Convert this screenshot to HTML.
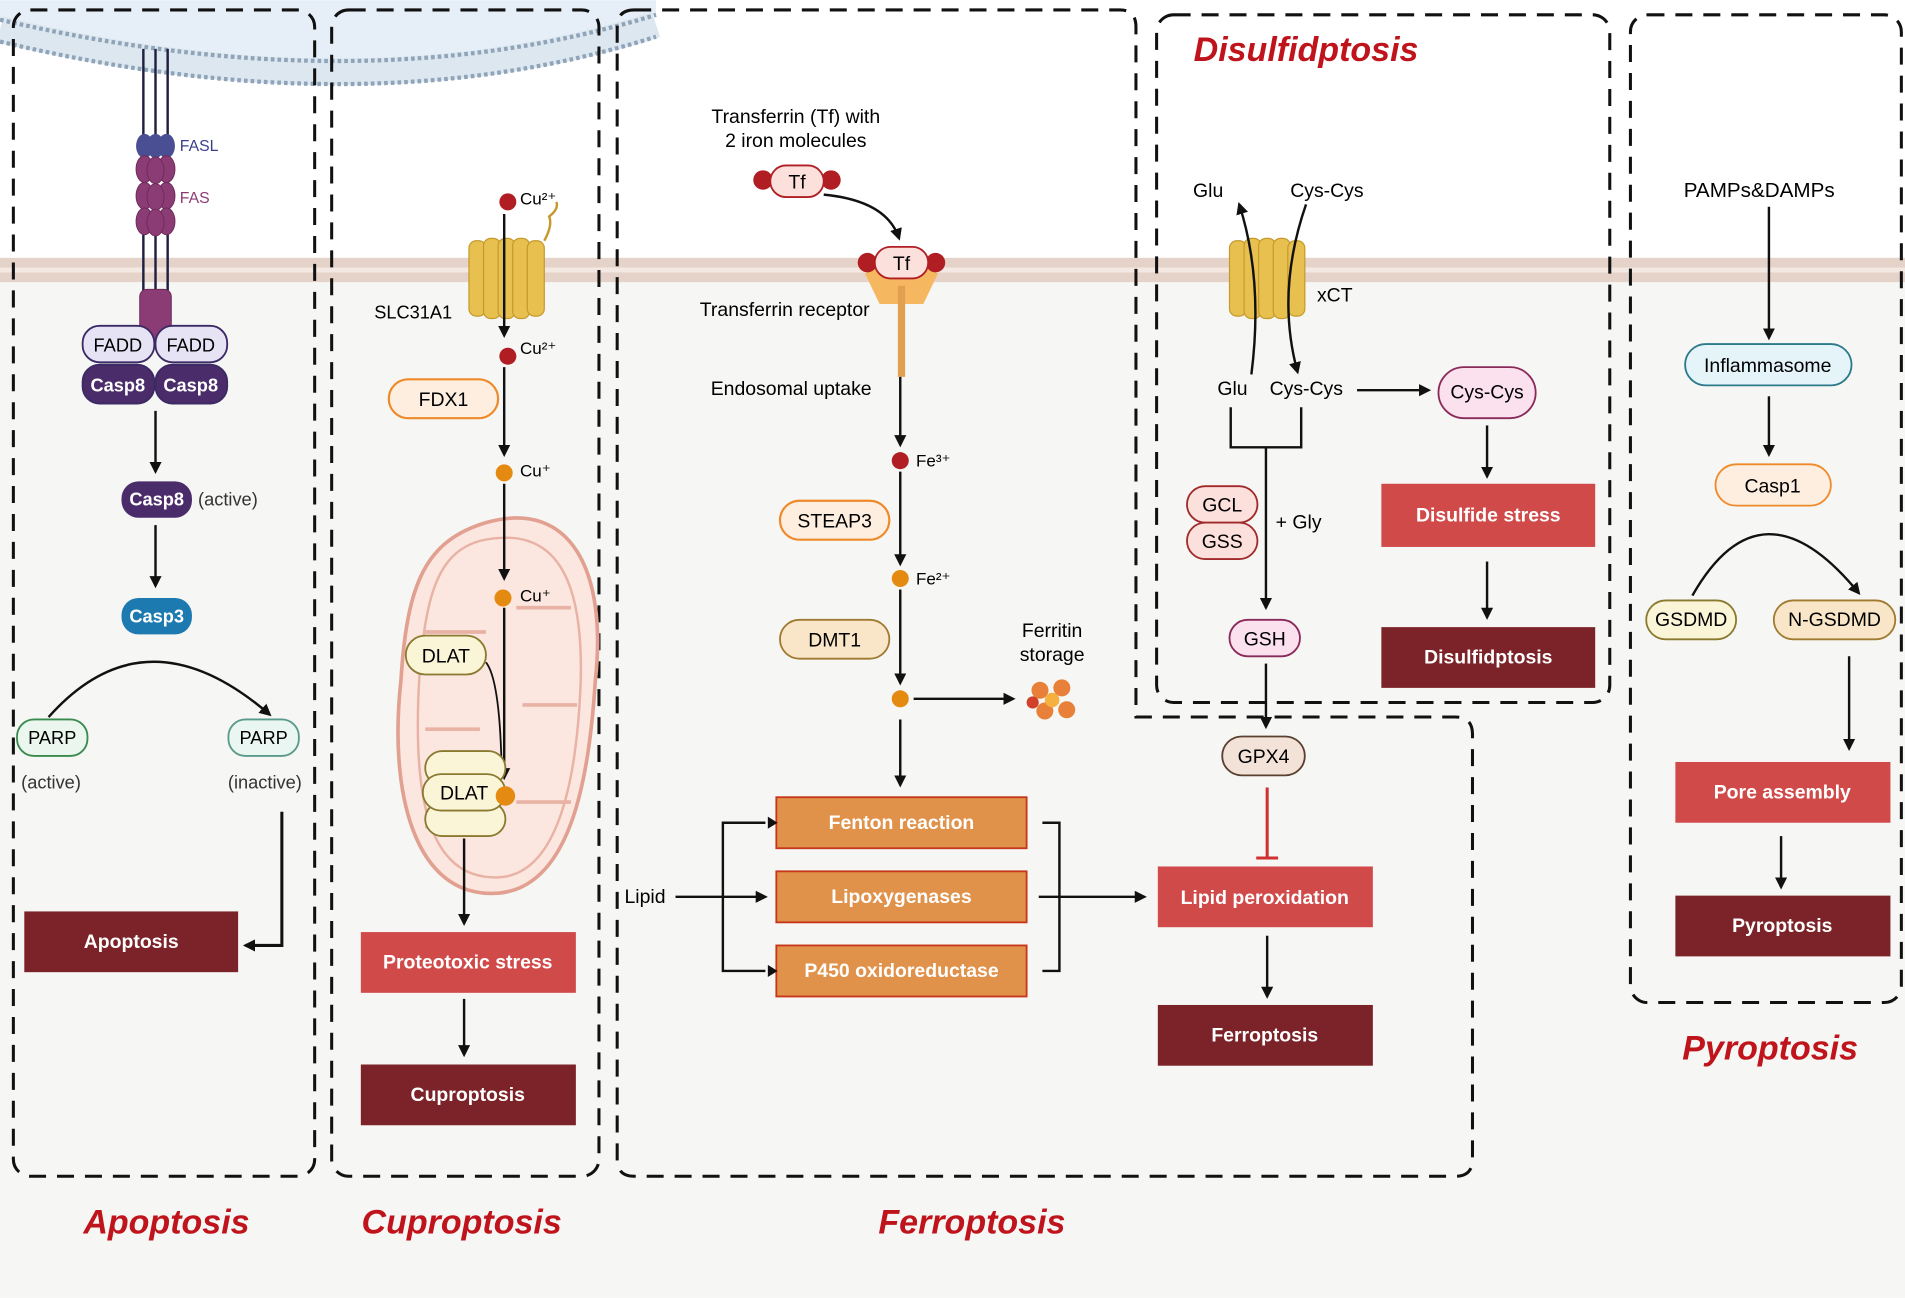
<!DOCTYPE html>
<html><head><meta charset="utf-8"><style>
html,body{margin:0;padding:0;background:#fff}
svg{display:block}
text{font-family:"Liberation Sans",Arial,sans-serif}
</style></head><body>
<svg width="1905" height="1298" viewBox="0 0 1568 1068" xmlns="http://www.w3.org/2000/svg">
<defs>
<marker id="ar" markerWidth="10" markerHeight="10" refX="8" refY="5" orient="auto" markerUnits="userSpaceOnUse"><path d="M0,0 L10,5 L0,10 z" fill="#111"/></marker>
</defs>
<rect x="0" y="0" width="1568" height="1068" fill="#fff"/>
<rect x="0" y="228" width="1568" height="840" fill="#f6f6f4"/>
<!-- cell membrane arc top-left -->
<path d="M0,0 L540,0 L540,12 Q300,85 0,15 Z" fill="#e6eff7"/>
<path d="M0,24 Q300,96 540,20" fill="none" stroke="#dce7f0" stroke-width="22"/>
<path d="M0,16 Q300,86 540,12" fill="none" stroke="#8fa4b8" stroke-width="3.5" stroke-dasharray="3 2.5"/>
<path d="M0,34 Q300,106 540,30" fill="none" stroke="#8fa4b8" stroke-width="3.5" stroke-dasharray="3 2.5"/>
<!-- plasma membrane band -->
<rect x="0" y="212" width="1568" height="8" fill="#e5d3c9"/>
<rect x="0" y="220" width="1568" height="4" fill="#f3e8e2"/>
<rect x="0" y="224" width="1568" height="8" fill="#e5d3c9"/>

<!-- dashed boxes -->
<g fill="none" stroke="#111" stroke-width="2.5" stroke-dasharray="14 9">
<rect x="11" y="8" width="248" height="960" rx="14"/>
<rect x="273" y="8" width="220" height="960" rx="14"/>
<path d="M522,8 L922,8 Q935,8 935,22 L935,590 L1198,590 Q1212,590 1212,604 L1212,954 Q1212,968 1198,968 L522,968 Q508,968 508,954 L508,22 Q508,8 522,8 Z"/>
<rect x="952" y="12" width="373" height="566" rx="14"/>
<rect x="1342" y="12" width="223" height="813" rx="14"/>
</g>

<!-- titles -->
<g font-weight="bold" font-style="italic" fill="#c0141c" font-size="28" text-anchor="middle">
<text x="137" y="1015">Apoptosis</text>
<text x="380" y="1015">Cuproptosis</text>
<text x="800" y="1015">Ferroptosis</text>
<text x="1075" y="50">Disulfidptosis</text>
<text x="1457" y="872">Pyroptosis</text>
</g>

<!-- APOPTOSIS -->
<g stroke="#1f1f40" stroke-width="2">
<line x1="118" y1="40" x2="118" y2="120"/><line x1="128" y1="40" x2="128" y2="120"/><line x1="138" y1="40" x2="138" y2="120"/>
<line x1="118" y1="190" x2="118" y2="250"/><line x1="128" y1="190" x2="128" y2="250"/><line x1="138" y1="190" x2="138" y2="250"/>
</g>
<g fill="#4a4f94"><ellipse cx="119" cy="120" rx="7" ry="10"/><ellipse cx="137" cy="120" rx="7" ry="10"/><ellipse cx="128" cy="120" rx="7" ry="10"/></g>
<g fill="#8c3c74" stroke="#6e2a5a" stroke-width="0.8">
<ellipse cx="119" cy="139" rx="7" ry="11"/><ellipse cx="137" cy="139" rx="7" ry="11"/><ellipse cx="128" cy="140" rx="7" ry="11"/>
<ellipse cx="119" cy="161" rx="7" ry="11"/><ellipse cx="137" cy="161" rx="7" ry="11"/><ellipse cx="128" cy="162" rx="7" ry="11"/>
<ellipse cx="119" cy="182" rx="7" ry="11"/><ellipse cx="137" cy="182" rx="7" ry="11"/><ellipse cx="128" cy="183" rx="7" ry="11"/>
<rect x="115" y="238" width="26" height="42" rx="6"/>
</g>
<text x="148" y="124" font-size="13" fill="#3a3f8a">FASL</text>
<text x="148" y="167" font-size="13" fill="#8c3c74">FAS</text>
<g stroke="#3b2a63" stroke-width="1.5">
<rect x="68" y="268" width="59" height="30" rx="14" fill="#e6e3f5"/>
<rect x="128" y="268" width="59" height="30" rx="14" fill="#e6e3f5"/>
<rect x="68" y="300" width="59" height="32" rx="14" fill="#4b2c6a"/>
<rect x="128" y="300" width="59" height="32" rx="14" fill="#4b2c6a"/>
</g>
<g font-size="15" text-anchor="middle"><text x="97" y="289">FADD</text><text x="157" y="289">FADD</text></g>
<g font-size="15" text-anchor="middle" fill="#fff" font-weight="bold"><text x="97" y="322">Casp8</text><text x="157" y="322">Casp8</text></g>
<line x1="128" y1="338" x2="128" y2="388" stroke="#111" stroke-width="2" marker-end="url(#ar)"/>
<rect x="100" y="396" width="58" height="30" rx="14" fill="#4b2c6a"/>
<text x="129" y="416" font-size="15" fill="#fff" font-weight="bold" text-anchor="middle">Casp8</text>
<text x="163" y="416" font-size="15" fill="#333">(active)</text>
<line x1="128" y1="432" x2="128" y2="482" stroke="#111" stroke-width="2" marker-end="url(#ar)"/>
<rect x="100" y="492" width="58" height="30" rx="14" fill="#1d7ab0"/>
<text x="129" y="512" font-size="15" fill="#fff" font-weight="bold" text-anchor="middle">Casp3</text>
<path d="M40,590 Q120,500 222,588" fill="none" stroke="#111" stroke-width="2" marker-end="url(#ar)"/>
<rect x="14" y="592" width="58" height="30" rx="14" fill="#eaf6ee" stroke="#3a8a50" stroke-width="1.5"/>
<text x="43" y="612" font-size="15" text-anchor="middle">PARP</text>
<text x="42" y="649" font-size="15" text-anchor="middle" fill="#333">(active)</text>
<rect x="188" y="592" width="58" height="30" rx="14" fill="#eaf6f2" stroke="#5a9a8a" stroke-width="1.5"/>
<text x="217" y="612" font-size="15" text-anchor="middle">PARP</text>
<text x="218" y="649" font-size="15" text-anchor="middle" fill="#333">(inactive)</text>
<path d="M232,668 L232,778 L202,778" fill="none" stroke="#111" stroke-width="2.5" marker-end="url(#ar)"/>
<rect x="20" y="750" width="176" height="50" fill="#7b2328"/>
<text x="108" y="780" font-size="16" fill="#fff" font-weight="bold" text-anchor="middle">Apoptosis</text>

<!-- CUPROPTOSIS -->
<g fill="#e8c050" stroke="#c59a2a" stroke-width="1">
<rect x="386" y="198" width="14" height="62" rx="6"/><rect x="398" y="196" width="14" height="66" rx="6"/><rect x="410" y="196" width="14" height="66" rx="6"/><rect x="422" y="196" width="14" height="66" rx="6"/><rect x="434" y="198" width="14" height="62" rx="6"/>
</g>
<path d="M448,198 Q455,185 452,178 Q460,172 458,166" fill="none" stroke="#c59a2a" stroke-width="2"/>
<text x="308" y="262" font-size="15">SLC31A1</text>
<circle cx="418" cy="166" r="7" fill="#b01e24"/><text x="428" y="168" font-size="14">Cu²⁺</text>
<line x1="415" y1="176" x2="415" y2="276" stroke="#111" stroke-width="2" marker-end="url(#ar)"/>
<circle cx="418" cy="293" r="7" fill="#b01e24"/><text x="428" y="291" font-size="14">Cu²⁺</text>
<line x1="415" y1="302" x2="415" y2="374" stroke="#111" stroke-width="2" marker-end="url(#ar)"/>
<rect x="320" y="312" width="90" height="32" rx="16" fill="#fdeee0" stroke="#ef8a2a" stroke-width="1.8"/>
<text x="365" y="334" font-size="16" text-anchor="middle">FDX1</text>
<circle cx="415" cy="389" r="7" fill="#e58a10"/><text x="428" y="392" font-size="14">Cu⁺</text>
<!-- mitochondrion -->
<path d="M400,430 C470,410 500,470 490,560 C485,640 470,730 410,735 C340,740 320,650 330,560 C335,480 350,445 400,430 Z" fill="#fbe6e0" stroke="#e1a090" stroke-width="3"/>
<path d="M395,445 C460,430 480,480 478,560 C475,640 460,720 410,722 C350,724 340,650 345,560 C350,490 360,455 395,445 Z" fill="none" stroke="#e8b2a4" stroke-width="2"/>
<path d="M350,520 L400,520 M350,600 L395,600 M470,500 L425,500 M475,580 L430,580 M470,660 L425,660 M350,680 L390,680" stroke="#e8b2a4" stroke-width="3" fill="none"/>
<line x1="415" y1="398" x2="415" y2="476" stroke="#111" stroke-width="2" marker-end="url(#ar)"/>
<circle cx="414" cy="492" r="7" fill="#e58a10"/><text x="428" y="495" font-size="14">Cu⁺</text>
<line x1="415" y1="500" x2="415" y2="640" stroke="#111" stroke-width="2" marker-end="url(#ar)"/>
<rect x="334" y="523" width="66" height="32" rx="16" fill="#fbf5d8" stroke="#8a7a30" stroke-width="1.5"/>
<text x="367" y="545" font-size="16" text-anchor="middle">DLAT</text>
<path d="M400,545 Q412,560 413,640" fill="none" stroke="#111" stroke-width="1.5"/>
<rect x="350" y="660" width="66" height="28" rx="14" fill="#fbf5d8" stroke="#8a7a30" stroke-width="1.5"/>
<rect x="350" y="618" width="66" height="28" rx="14" fill="#fbf5d8" stroke="#8a7a30" stroke-width="1.5"/>
<rect x="348" y="637" width="68" height="30" rx="15" fill="#fbf5d8" stroke="#8a7a30" stroke-width="1.5"/>
<text x="382" y="658" font-size="16" text-anchor="middle">DLAT</text>
<circle cx="416" cy="655" r="8" fill="#e58a10"/>
<line x1="382" y1="690" x2="382" y2="760" stroke="#111" stroke-width="2" marker-end="url(#ar)"/>
<rect x="297" y="767" width="177" height="50" fill="#d14a4a"/>
<text x="385" y="797" font-size="16" fill="#fff" font-weight="bold" text-anchor="middle">Proteotoxic stress</text>
<line x1="382" y1="822" x2="382" y2="868" stroke="#111" stroke-width="2" marker-end="url(#ar)"/>
<rect x="297" y="876" width="177" height="50" fill="#7b2328"/>
<text x="385" y="906" font-size="16" fill="#fff" font-weight="bold" text-anchor="middle">Cuproptosis</text>

<!-- FERROPTOSIS -->
<text x="655" y="101" font-size="16" text-anchor="middle">Transferrin (Tf) with</text>
<text x="655" y="121" font-size="16" text-anchor="middle">2 iron molecules</text>
<circle cx="628" cy="148" r="8" fill="#b01e24"/><circle cx="684" cy="148" r="8" fill="#b01e24"/>
<rect x="634" y="136" width="44" height="26" rx="13" fill="#fbe0dc" stroke="#b01e24" stroke-width="1.5"/>
<text x="656" y="155" font-size="16" text-anchor="middle">Tf</text>
<path d="M678,160 Q730,165 740,196" fill="none" stroke="#111" stroke-width="2" marker-end="url(#ar)"/>
<path d="M712,225 Q740,205 772,225 L760,250 L724,250 Z" fill="#f5b860"/>
<rect x="739" y="235" width="6" height="75" fill="#e0a050"/>
<circle cx="714" cy="216" r="8" fill="#b01e24"/><circle cx="770" cy="216" r="8" fill="#b01e24"/>
<rect x="720" y="203" width="44" height="26" rx="13" fill="#fbe0dc" stroke="#b01e24" stroke-width="1.5"/>
<text x="742" y="222" font-size="16" text-anchor="middle">Tf</text>
<text x="576" y="260" font-size="16">Transferrin receptor</text>
<text x="585" y="325" font-size="16">Endosomal uptake</text>
<line x1="741" y1="310" x2="741" y2="366" stroke="#111" stroke-width="2" marker-end="url(#ar)"/>
<circle cx="741" cy="379" r="7" fill="#b01e24"/><text x="754" y="384" font-size="14">Fe³⁺</text>
<line x1="741" y1="388" x2="741" y2="464" stroke="#111" stroke-width="2" marker-end="url(#ar)"/>
<rect x="642" y="412" width="90" height="32" rx="16" fill="#fdeee0" stroke="#ef8a2a" stroke-width="1.8"/>
<text x="687" y="434" font-size="16" text-anchor="middle">STEAP3</text>
<circle cx="741" cy="476" r="7" fill="#e58a10"/><text x="754" y="481" font-size="14">Fe²⁺</text>
<line x1="741" y1="485" x2="741" y2="562" stroke="#111" stroke-width="2" marker-end="url(#ar)"/>
<rect x="642" y="510" width="90" height="32" rx="16" fill="#f9e6c8" stroke="#a07a30" stroke-width="1.5"/>
<text x="687" y="532" font-size="16" text-anchor="middle">DMT1</text>
<circle cx="741" cy="575" r="7" fill="#e58a10"/>
<line x1="752" y1="575" x2="834" y2="575" stroke="#111" stroke-width="2" marker-end="url(#ar)"/>
<text x="866" y="524" font-size="16" text-anchor="middle">Ferritin</text>
<text x="866" y="544" font-size="16" text-anchor="middle">storage</text>
<g fill="#e8803a"><circle cx="856" cy="568" r="7"/><circle cx="874" cy="566" r="7"/><circle cx="860" cy="585" r="7"/><circle cx="878" cy="584" r="7"/><circle cx="866" cy="576" r="6" fill="#f5b040"/><circle cx="850" cy="578" r="5" fill="#d0402a"/></g>
<line x1="741" y1="592" x2="741" y2="646" stroke="#111" stroke-width="2" marker-end="url(#ar)"/>
<g fill="#e0924a" stroke="#c7351a" stroke-width="1.5">
<rect x="639" y="656" width="206" height="42"/><rect x="639" y="717" width="206" height="42"/><rect x="639" y="778" width="206" height="42"/>
</g>
<g font-size="16" fill="#fff" font-weight="bold" text-anchor="middle">
<text x="742" y="682">Fenton reaction</text><text x="742" y="743">Lipoxygenases</text><text x="742" y="804">P450 oxidoreductase</text>
</g>
<text x="514" y="743" font-size="16">Lipid</text>
<line x1="556" y1="738" x2="630" y2="738" stroke="#111" stroke-width="2" marker-end="url(#ar)"/>
<path d="M595,738 L595,677 L630,677 M595,738 L595,799 L630,799" fill="none" stroke="#111" stroke-width="2"/>
<polygon points="632,672 640,677 632,682" fill="#111"/><polygon points="632,794 640,799 632,804" fill="#111"/>
<path d="M858,677 L872,677 L872,799 L858,799" fill="none" stroke="#111" stroke-width="2"/>
<line x1="855" y1="738" x2="942" y2="738" stroke="#111" stroke-width="2" marker-end="url(#ar)"/>
<rect x="1006" y="606" width="68" height="32" rx="16" fill="#f3e2d8" stroke="#5a4030" stroke-width="1.5"/>
<text x="1040" y="628" font-size="16" text-anchor="middle">GPX4</text>
<line x1="1043" y1="648" x2="1043" y2="706" stroke="#d03030" stroke-width="2.5"/>
<line x1="1034" y1="706" x2="1052" y2="706" stroke="#d03030" stroke-width="2.5"/>
<rect x="953" y="713" width="177" height="50" fill="#d14a4a"/>
<text x="1041" y="744" font-size="16" fill="#fff" font-weight="bold" text-anchor="middle">Lipid peroxidation</text>
<line x1="1043" y1="770" x2="1043" y2="820" stroke="#111" stroke-width="2" marker-end="url(#ar)"/>
<rect x="953" y="827" width="177" height="50" fill="#7b2328"/>
<text x="1041" y="857" font-size="16" fill="#fff" font-weight="bold" text-anchor="middle">Ferroptosis</text>

<!-- DISULFIDPTOSIS -->
<g fill="#e8c050" stroke="#c59a2a" stroke-width="1">
<rect x="1012" y="198" width="14" height="62" rx="6"/><rect x="1024" y="196" width="14" height="66" rx="6"/><rect x="1036" y="196" width="14" height="66" rx="6"/><rect x="1048" y="196" width="14" height="66" rx="6"/><rect x="1060" y="198" width="14" height="62" rx="6"/>
</g>
<text x="1084" y="248" font-size="16">xCT</text>
<text x="982" y="162" font-size="16">Glu</text>
<text x="1062" y="162" font-size="16">Cys-Cys</text>
<path d="M1030,308 Q1040,230 1020,168" fill="none" stroke="#111" stroke-width="2" marker-end="url(#ar)"/>
<path d="M1075,168 Q1050,240 1068,306" fill="none" stroke="#111" stroke-width="2" marker-end="url(#ar)"/>
<text x="1002" y="325" font-size="16">Glu</text>
<text x="1045" y="325" font-size="16">Cys-Cys</text>
<line x1="1117" y1="321" x2="1176" y2="321" stroke="#111" stroke-width="2" marker-end="url(#ar)"/>
<rect x="1184" y="302" width="80" height="42" rx="21" fill="#fbe0ee" stroke="#8a2a5a" stroke-width="1.5"/>
<text x="1224" y="328" font-size="16" text-anchor="middle">Cys-Cys</text>
<path d="M1013,335 L1013,368 L1071,368 L1071,335" fill="none" stroke="#111" stroke-width="2"/>
<line x1="1042" y1="368" x2="1042" y2="500" stroke="#111" stroke-width="2" marker-end="url(#ar)"/>
<rect x="977" y="400" width="58" height="30" rx="15" fill="#fbe0dc" stroke="#a02a2a" stroke-width="1.5"/>
<rect x="977" y="430" width="58" height="30" rx="15" fill="#fbe0dc" stroke="#a02a2a" stroke-width="1.5"/>
<text x="1006" y="421" font-size="16" text-anchor="middle">GCL</text>
<text x="1006" y="451" font-size="16" text-anchor="middle">GSS</text>
<text x="1050" y="435" font-size="16">+ Gly</text>
<rect x="1012" y="510" width="58" height="30" rx="15" fill="#fbe0ee" stroke="#8a2a5a" stroke-width="1.5"/>
<text x="1041" y="531" font-size="16" text-anchor="middle">GSH</text>
<line x1="1042" y1="546" x2="1042" y2="598" stroke="#111" stroke-width="2" marker-end="url(#ar)"/>
<line x1="1224" y1="350" x2="1224" y2="392" stroke="#111" stroke-width="2" marker-end="url(#ar)"/>
<rect x="1137" y="398" width="176" height="52" fill="#d14a4a"/>
<text x="1225" y="429" font-size="16" fill="#fff" font-weight="bold" text-anchor="middle">Disulfide stress</text>
<line x1="1224" y1="462" x2="1224" y2="508" stroke="#111" stroke-width="2" marker-end="url(#ar)"/>
<rect x="1137" y="516" width="176" height="50" fill="#7b2328"/>
<text x="1225" y="546" font-size="16" fill="#fff" font-weight="bold" text-anchor="middle">Disulfidptosis</text>

<!-- PYROPTOSIS -->
<text x="1448" y="162" font-size="17" text-anchor="middle">PAMPs&amp;DAMPs</text>
<line x1="1456" y1="170" x2="1456" y2="278" stroke="#111" stroke-width="2" marker-end="url(#ar)"/>
<rect x="1387" y="283" width="137" height="34" rx="17" fill="#e4f4f8" stroke="#2a7a8a" stroke-width="1.5"/>
<text x="1455" y="306" font-size="16" text-anchor="middle">Inflammasome</text>
<line x1="1456" y1="326" x2="1456" y2="374" stroke="#111" stroke-width="2" marker-end="url(#ar)"/>
<rect x="1412" y="382" width="95" height="34" rx="17" fill="#fdeee0" stroke="#ef8a2a" stroke-width="1.5"/>
<text x="1459" y="405" font-size="16" text-anchor="middle">Casp1</text>
<path d="M1393,490 Q1450,390 1530,488" fill="none" stroke="#111" stroke-width="2" marker-end="url(#ar)"/>
<rect x="1355" y="494" width="74" height="32" rx="16" fill="#fbf5d8" stroke="#8a7a30" stroke-width="1.5"/>
<text x="1392" y="515" font-size="16" text-anchor="middle">GSDMD</text>
<rect x="1460" y="494" width="100" height="32" rx="16" fill="#f9e6c8" stroke="#a07a30" stroke-width="1.5"/>
<text x="1510" y="515" font-size="16" text-anchor="middle">N-GSDMD</text>
<line x1="1522" y1="540" x2="1522" y2="616" stroke="#111" stroke-width="2" marker-end="url(#ar)"/>
<rect x="1379" y="627" width="177" height="50" fill="#d14a4a"/>
<text x="1467" y="657" font-size="16" fill="#fff" font-weight="bold" text-anchor="middle">Pore assembly</text>
<line x1="1466" y1="688" x2="1466" y2="730" stroke="#111" stroke-width="2" marker-end="url(#ar)"/>
<rect x="1379" y="737" width="177" height="50" fill="#7b2328"/>
<text x="1467" y="767" font-size="16" fill="#fff" font-weight="bold" text-anchor="middle">Pyroptosis</text>
</svg>
</body></html>
